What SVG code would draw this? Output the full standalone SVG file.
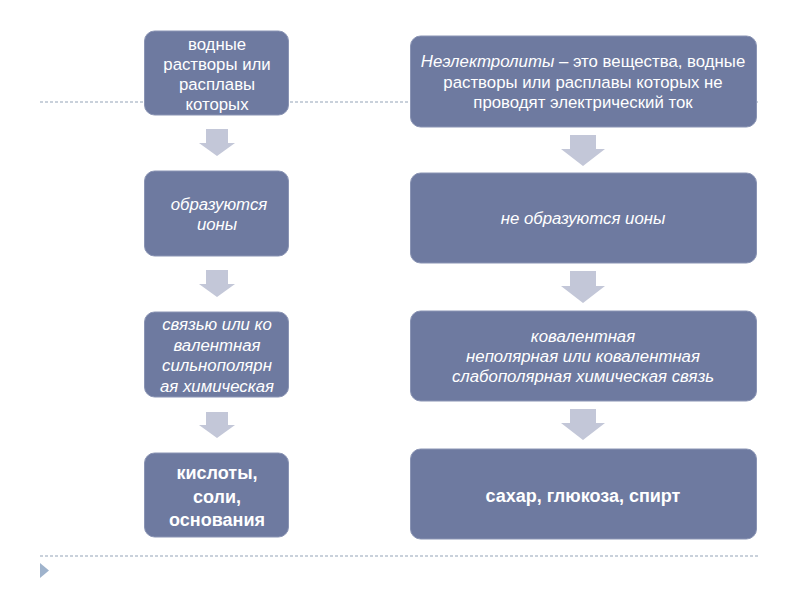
<svg xmlns="http://www.w3.org/2000/svg" width="800" height="600" viewBox="0 0 800 600">
<style>
.box{fill:#6e7aa0;stroke:#8a94b4;stroke-width:1}
.t{font-family:"Liberation Sans","DejaVu Sans",sans-serif;font-size:16.8px;fill:#ffffff;text-anchor:middle}
.i{font-style:italic}
.b{font-weight:bold;font-size:18px}
.arr{fill:#c3c7d8}
.dash{stroke:#b8c2d0;stroke-width:1.5;stroke-dasharray:3,2;fill:none}
</style>
<rect width="800" height="600" fill="#ffffff"/>
<g id="guides">
<line class="dash" x1="40" y1="102" x2="760" y2="102"/>
<line class="dash" x1="40" y1="556" x2="760" y2="556"/>
<polygon points="40,563 49,570.5 40,578" fill="#9fb3cc"/>
</g>
<g id="connectors">
<polygon class="arr" points="206,129 228,129 228,143 235,143 217,156 199,143 206,143"/>
<polygon class="arr" points="206,270 228,270 228,284 235,284 217,297 199,284 206,284"/>
<polygon class="arr" points="206,412 228,412 228,425 235,425 217,438 199,425 206,425"/>
<polygon class="arr" points="570,135 596,135 596,149 605,149 583,166 561,149 570,149"/>
<polygon class="arr" points="570,271 596,271 596,286 605,286 583,303 561,286 570,286"/>
<polygon class="arr" points="570,409 596,409 596,423 605,423 583,440 561,423 570,423"/>
</g>
<g id="l1">
<rect class="box" x="144.5" y="31" width="144" height="84" rx="10"/>
<text class="t"><tspan x="217" y="50">водные</tspan><tspan x="217" y="70">растворы или</tspan><tspan x="217" y="90">расплавы</tspan><tspan x="217" y="110">которых</tspan></text>
</g>
<g id="l2">
<rect class="box" x="144.5" y="171" width="144" height="85" rx="10"/>
<text class="t i"><tspan x="219" y="210">образуются</tspan><tspan x="217" y="230">ионы</tspan></text>
</g>
<g id="l3">
<rect class="box" x="144.5" y="312" width="144" height="85" rx="10"/>
<text class="t i"><tspan x="217" y="330">связью или ко</tspan><tspan x="217" y="351">валентная</tspan><tspan x="217" y="371">сильнополярн</tspan><tspan x="217" y="392">ая химическая</tspan></text>
</g>
<g id="l4">
<rect class="box" x="144.5" y="453" width="144" height="84" rx="10"/>
<text class="t b"><tspan x="217" y="479">кислоты,</tspan><tspan x="217" y="503">соли,</tspan><tspan x="217" y="526">основания</tspan></text>
</g>
<g id="r1">
<rect class="box" x="410.5" y="36" width="346" height="91" rx="10"/>
<text class="t"><tspan x="583" y="67"><tspan class="i">Неэлектролиты</tspan> – это вещества, водные</tspan><tspan x="583" y="88">растворы или расплавы которых  не</tspan><tspan x="583" y="108">проводят электрический ток</tspan></text>
</g>
<g id="r2">
<rect class="box" x="410.5" y="173" width="346" height="90" rx="10"/>
<text class="t i" x="583" y="224">не образуются ионы</text>
</g>
<g id="r3">
<rect class="box" x="410.5" y="311" width="346" height="90" rx="10"/>
<text class="t i"><tspan x="583" y="342">ковалентная</tspan><tspan x="583" y="362">неполярная  или ковалентная</tspan><tspan x="583" y="382">слабополярная химическая связь</tspan></text>
</g>
<g id="r4">
<rect class="box" x="410.5" y="449" width="346" height="90" rx="10"/>
<text class="t b" x="583" y="502">сахар, глюкоза, спирт</text>
</g>
</svg>
